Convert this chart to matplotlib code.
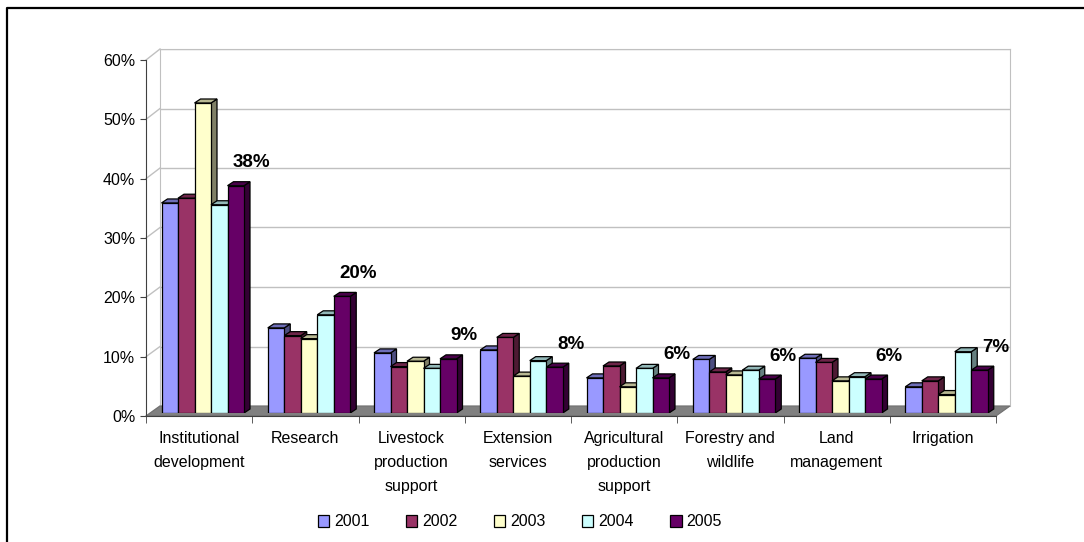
import matplotlib
matplotlib.use("Agg")
import matplotlib.pyplot as plt
import matplotlib.colors as mcolors
from matplotlib.patches import Polygon, Patch
from matplotlib.lines import Line2D
from matplotlib.ticker import PercentFormatter
import numpy as np

plt.rcParams['font.family'] = ['Liberation Sans', 'DejaVu Sans']

categories = ['Institutional\ndevelopment', 'Research', 'Livestock\nproduction\nsupport',
              'Extension\nservices', 'Agricultural\nproduction\nsupport',
              'Forestry and\nwildlife', 'Land\nmanagement', 'Irrigation']
years = ['2001', '2002', '2003', '2004', '2005']

v2001 = [0.353, 0.143, 0.101, 0.106, 0.059, 0.090, 0.092, 0.044]
v2002 = [0.361, 0.130, 0.078, 0.127, 0.079, 0.069, 0.085, 0.054]
v2003 = [0.521, 0.125, 0.087, 0.062, 0.044, 0.064, 0.054, 0.031]
v2004 = [0.350, 0.165, 0.075, 0.088, 0.075, 0.072, 0.061, 0.103]
v2005 = [0.382, 0.196, 0.091, 0.077, 0.059, 0.057, 0.057, 0.072]
series = [v2001, v2002, v2003, v2004, v2005]
colors = ['#9999FF', '#993366', '#FFFFCC', '#CCFFFF', '#660066']

W, H = 1084, 542
fig = plt.figure(figsize=(W / 100, H / 100), dpi=100)


def rect(x0, y_top, x1, y_bot):
    # pixel box (y from top) -> figure fraction
    return [x0 / W, 1 - y_bot / H, (x1 - x0) / W, (y_bot - y_top) / H]


def fpt(x, y):
    return (x / W, 1 - y / H)


def shade(c, f):
    r, g, b = mcolors.to_rgb(c)
    return (r * f, g * f, b * f)


yticks = np.arange(0, 0.61, 0.1)

# back wall with gridlines
ax_back = fig.add_axes(rect(160, 49, 1010, 406), zorder=0)
ax_back.set_xlim(-0.5, 7.5)
ax_back.set_ylim(0, 0.6)
ax_back.set_xticks([])
ax_back.set_yticks(yticks)
ax_back.tick_params(left=False, labelleft=False)
ax_back.grid(axis='y', color='#C0C0C0', lw=1)
for s in ax_back.spines.values():
    s.set_color('#C0C0C0')
ax_back.spines['bottom'].set_visible(False)

# side wall diagonals
for t in yticks:
    yf = 416 - t / 0.6 * 356
    yb = 406 - t / 0.6 * 357
    fig.add_artist(Line2D([146 / W, 160 / W], [1 - yf / H, 1 - yb / H],
                          transform=fig.transFigure, color='#C0C0C0', lw=1, zorder=0.4))

# floor
fig.add_artist(Polygon([fpt(146, 416), fpt(996, 416), fpt(1010, 406), fpt(160, 406)],
                       closed=True, transform=fig.transFigure, facecolor='#808080',
                       edgecolor='#707070', lw=0.8, zorder=0.5))

# front axis: ticks and labels
ax = fig.add_axes(rect(146, 60, 996, 416), zorder=1)
ax.patch.set_alpha(0)
ax.set_xlim(-0.5, 7.5)
ax.set_ylim(0, 0.6)
ax.set_yticks(yticks)
ax.yaxis.set_major_formatter(PercentFormatter(1.0, decimals=0))
ax.set_xticks(range(len(categories)))
ax.set_xticklabels(categories, linespacing=1.75)
ax.set_xticks(np.arange(-0.5, 8, 1), minor=True)
ax.tick_params(axis='x', which='major', length=0, pad=11, labelsize=11.5)
ax.tick_params(axis='x', which='minor', length=5, color='#404040')
ax.tick_params(axis='y', length=4.3, pad=3.4, labelsize=11.5, color='#404040')
ax.spines['top'].set_visible(False)
ax.spines['right'].set_visible(False)
ax.spines['left'].set_color('#404040')
ax.spines['bottom'].set_color('#404040')

# bars
axb = fig.add_axes(rect(146, 56, 996, 413), zorder=2)
axb.set_xlim(-0.5, 7.5)
axb.set_ylim(0, 0.6)
axb.axis('off')

cat_px = 850 / 8
bw = 16.5 / cat_px
start = 15.5 / cat_px
ddx = 6 / cat_px
ddy = 4 / (357 / 0.6)
idx = np.arange(len(categories))

for j, (vals, c) in enumerate(zip(series, colors)):
    xs = idx - 0.5 + start + bw * (j + 0.5)
    for x, v in zip(xs, vals):
        x0, x1 = x - bw / 2, x + bw / 2
        side = Polygon([(x1, 0), (x1, v), (x1 + ddx, v + ddy), (x1 + ddx, ddy)],
                       closed=True, facecolor=shade(c, 0.5), edgecolor='black',
                       lw=0.9, zorder=2 + 2 * j)
        top = Polygon([(x0, v), (x1, v), (x1 + ddx, v + ddy), (x0 + ddx, v + ddy)],
                      closed=True, facecolor=shade(c, 0.72), edgecolor='black',
                      lw=0.9, zorder=2 + 2 * j)
        axb.add_patch(side)
        axb.add_patch(top)
    axb.bar(xs, vals, width=bw, color=c, edgecolor='black', lw=0.9, zorder=3 + 2 * j)
    if j == len(series) - 1:
        for x, v in zip(xs, vals):
            axb.annotate(f"{v * 100:.0f}%", (x, v), xytext=(16, 23),
                         textcoords='offset pixels', ha='center', va='center',
                         fontsize=13.5, fontweight='bold', zorder=20)

handles = [Patch(facecolor=c, edgecolor='black', lw=0.9, label=y) for c, y in zip(colors, years)]
fig.legend(handles=handles, loc='center', bbox_to_anchor=fpt(520, 522), ncol=5,
           frameon=False, fontsize=11.5, handlelength=0.7, handleheight=0.7,
           handletextpad=0.3, columnspacing=2.3)

# outer frame (top and left edges)
fig.add_artist(Line2D([7 / W, 7 / W, 1], [0, 1 - 8 / H, 1 - 8 / H],
                      transform=fig.transFigure, color='black', lw=1.6, zorder=30))

fig.savefig('out.png', dpi=100)
plt.close(fig)
